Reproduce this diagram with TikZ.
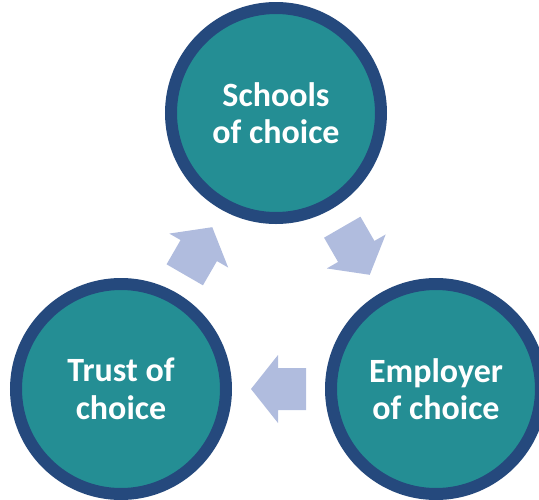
\documentclass[tikz,border=0pt]{standalone}
\usepackage{fontspec}
\setsansfont{Carlito}
\usetikzlibrary{calc}

\definecolor{tealfill}{HTML}{248E94}
\definecolor{navyring}{HTML}{25497D}
\definecolor{arrowblue}{HTML}{B0BCDE}

\begin{document}
\begin{tikzpicture}[x=1pt,y=1pt]
	\tikzset{
		goal/.style={circle, draw=navyring, fill=tealfill, line width=12pt, minimum size=210pt, inner sep=0pt, align=center, text=white, font={\sffamily\bfseries\fontsize{34}{37.5}\selectfont}},
		cyclearrow/.pic={\fill[arrowblue] (-27.5,-21) -- (0.5,-21) -- (0.5,-34) -- (27.5,0) -- (0.5,34) -- (0.5,21) -- (-27.5,21) -- cycle;},
	}

	\useasboundingbox (0,0) rectangle (539,-499);
	\clip (0,0) rectangle (539,-499);

	\node[goal] (schools) at (276,-113) {Schools\\of choice};
	\node[goal] (trust) at (121,-389) {Trust of\\choice};
	\node[goal] (employer) at (436,-389) {Employer\\of choice};

	% arrows halfway between the circles
	\pic[rotate=60] at ($(trust)!0.5!(schools)$) {cyclearrow};
	\pic[rotate=-60] at ($(schools)!0.5!(employer)$) {cyclearrow};
	\pic[rotate=180] at ($(employer)!0.5!(trust)$) {cyclearrow};

\end{tikzpicture}
\end{document}
